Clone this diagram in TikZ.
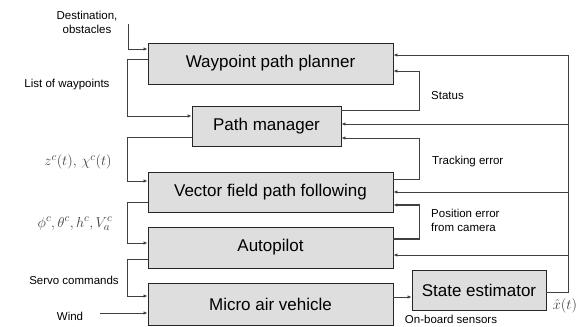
\documentclass[tikz,border=0pt]{standalone}
\usepackage{fontspec}
\setmainfont{Liberation Sans}
\usetikzlibrary{arrows.meta,calc}
\definecolor{boxgray}{gray}{0.87}
\definecolor{wiregray}{gray}{0.25}

\begin{document}
\begin{tikzpicture}[x=1pt, y=-1pt,
    block/.style={draw=black!85, line width=0.9pt, fill=boxgray, inner sep=0pt,
                  minimum height=41pt, font=\fontsize{17}{20}\selectfont},
    arrow/.style={-{Latex[length=4pt, width=3.5pt]}, draw=wiregray, line width=0.8pt},
    note/.style={font=\fontsize{11.5}{14}\selectfont, align=center, inner sep=0pt},
    mathnote/.style={font=\fontsize{15}{17}\selectfont, text=black!75, inner sep=0pt}
]
\useasboundingbox (0,0) rectangle (582,327);

% Blocks of the guidance loop (top to bottom)
\node[block, minimum width=245pt] (planner) at (270.5,63.5) {Waypoint path planner};
\node[block, minimum width=149pt, minimum height=40pt] (manager) at (266.5,126) {Path manager};
\node[block, minimum width=245pt, minimum height=40pt] (follow) at (270.5,192) {Vector field path following};
\node[block, minimum width=245pt] (autopilot) at (270.5,247.5) {Autopilot};
\node[block, minimum width=245pt, minimum height=42pt] (mav) at (270.5,304) {Micro air vehicle};
\node[block, minimum width=134pt, minimum height=40pt] (estimator) at (479,290) {State estimator};

% Left side: commands passed downwards
\coordinate (destin) at (128,24);
\node[note] (destlbl) at (87,22) {Destination,\\obstacles};
\draw[arrow] (destin) |- ([yshift=14.5pt]planner.west);

\node[note] (wplbl) at (67,85) {List of waypoints};
\draw[arrow] ([yshift=4.5pt]planner.west) -- ++(-20,0) |- ([yshift=10pt]manager.west);

\node[mathnote] (zlbl) at (78,162) {$z^c(t),\, \chi^c(t)$};
\draw[arrow] ([yshift=-11pt]manager.west) -- ++(-64,0) |- ([yshift=11pt]follow.west);

\node[mathnote] (cmdlbl) at (75,224) {$\phi^c, \theta^c, h^c, V_a^c$};
\draw[arrow] ([yshift=-10pt]follow.west) -- ++(-20,0) |- ([yshift=4.5pt]autopilot.west);

\node[note] (servolbl) at (74,280) {Servo commands};
\draw[arrow] ([yshift=-11.5pt]autopilot.west) -- ++(-20,0) |- ([yshift=8pt]mav.west);

\node[note] (windlbl) at (70,316) {Wind};
\coordinate (wind) at (100,313);
\draw[arrow] (wind) -- (wind -| mav.west);

% Sensors into the estimator
\draw[arrow] ([yshift=7pt]mav.east) -- ([yshift=7pt]mav.east -| estimator.west);
\node[note] (sensorlbl) at (451,319) {On-board sensors};

% Right side: state estimate fed back to every block
\draw[arrow] ([yshift=-2pt]estimator.east) -- ++(22,0) coordinate (bus)
    |- ([yshift=8.5pt]planner.east);
\node[mathnote] (xlbl) at (565,306) {$\hat{x}(t)$};
\coordinate (pmin) at ([yshift=2pt]manager.east);
\coordinate (apin) at ([yshift=-7.5pt]autopilot.east);
\draw[arrow] (bus |- pmin) -- (pmin);
\draw[arrow] (bus |- follow.east) -- (follow.east);
\draw[arrow] (bus |- apin) -- (apin);

% Inner feedback loops
\draw[arrow] ([yshift=16pt]manager.east) -- ++(78,0) |- ([yshift=-7.5pt]planner.east);
\node[note, anchor=west] (statuslbl) at (431,96) {Status};

\draw[arrow] ([yshift=13pt]follow.east) -- ++(26,0) |- ([yshift=-12pt]manager.east);
\node[note, anchor=west] (tracklbl) at (432,162) {Tracking error};

\draw[arrow, line width=1.3pt] ([yshift=8.5pt]autopilot.east) -- ++(26,0) |- ([yshift=-13pt]follow.east);
\node[note, anchor=west, align=left] (camlbl) at (431,220) {Position error\\from camera};

\end{tikzpicture}
\end{document}
